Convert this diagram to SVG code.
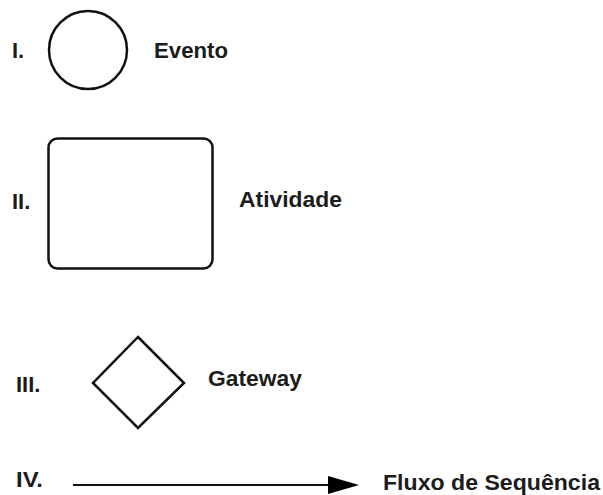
<svg xmlns="http://www.w3.org/2000/svg" width="603" height="495" viewBox="0 0 603 495">
<style>
.t{font-family:"Liberation Sans",Arial,sans-serif;font-weight:bold;font-size:22px;fill:#1c1c1c}
.s{fill:#fff;stroke:#111;stroke-width:2.5}
</style>
<rect width="603" height="495" fill="#fff"/>
<g id="evento">
<text class="t" x="12" y="58">I.</text>
<circle class="s" cx="88" cy="50" r="39"/>
<text class="t" x="154" y="58" textLength="74" lengthAdjust="spacingAndGlyphs">Evento</text>
</g>
<g id="atividade">
<text class="t" x="12" y="209">II.</text>
<rect class="s" x="48.5" y="138.5" width="164" height="130" rx="9"/>
<text class="t" x="239" y="207" textLength="103" lengthAdjust="spacingAndGlyphs">Atividade</text>
</g>
<g id="gateway">
<text class="t" x="16" y="392" font-size="23">III.</text>
<polygon class="s" points="138,337 184,383 138,428 93,383"/>
<text class="t" x="208" y="386" font-size="20" textLength="94" lengthAdjust="spacingAndGlyphs">Gateway</text>
</g>
<g id="fluxo">
<text class="t" x="16" y="487" font-size="24" textLength="27" lengthAdjust="spacingAndGlyphs">IV.</text>
<text class="t" x="383" y="490" font-size="24" textLength="217" lengthAdjust="spacingAndGlyphs">Fluxo de Sequência</text>
</g>
<g id="connectors">
<line x1="73" y1="485" x2="330" y2="485" stroke="#111" stroke-width="2"/>
<polygon points="328,476 359,485 328,494" fill="#000"/>
</g>
</svg>
